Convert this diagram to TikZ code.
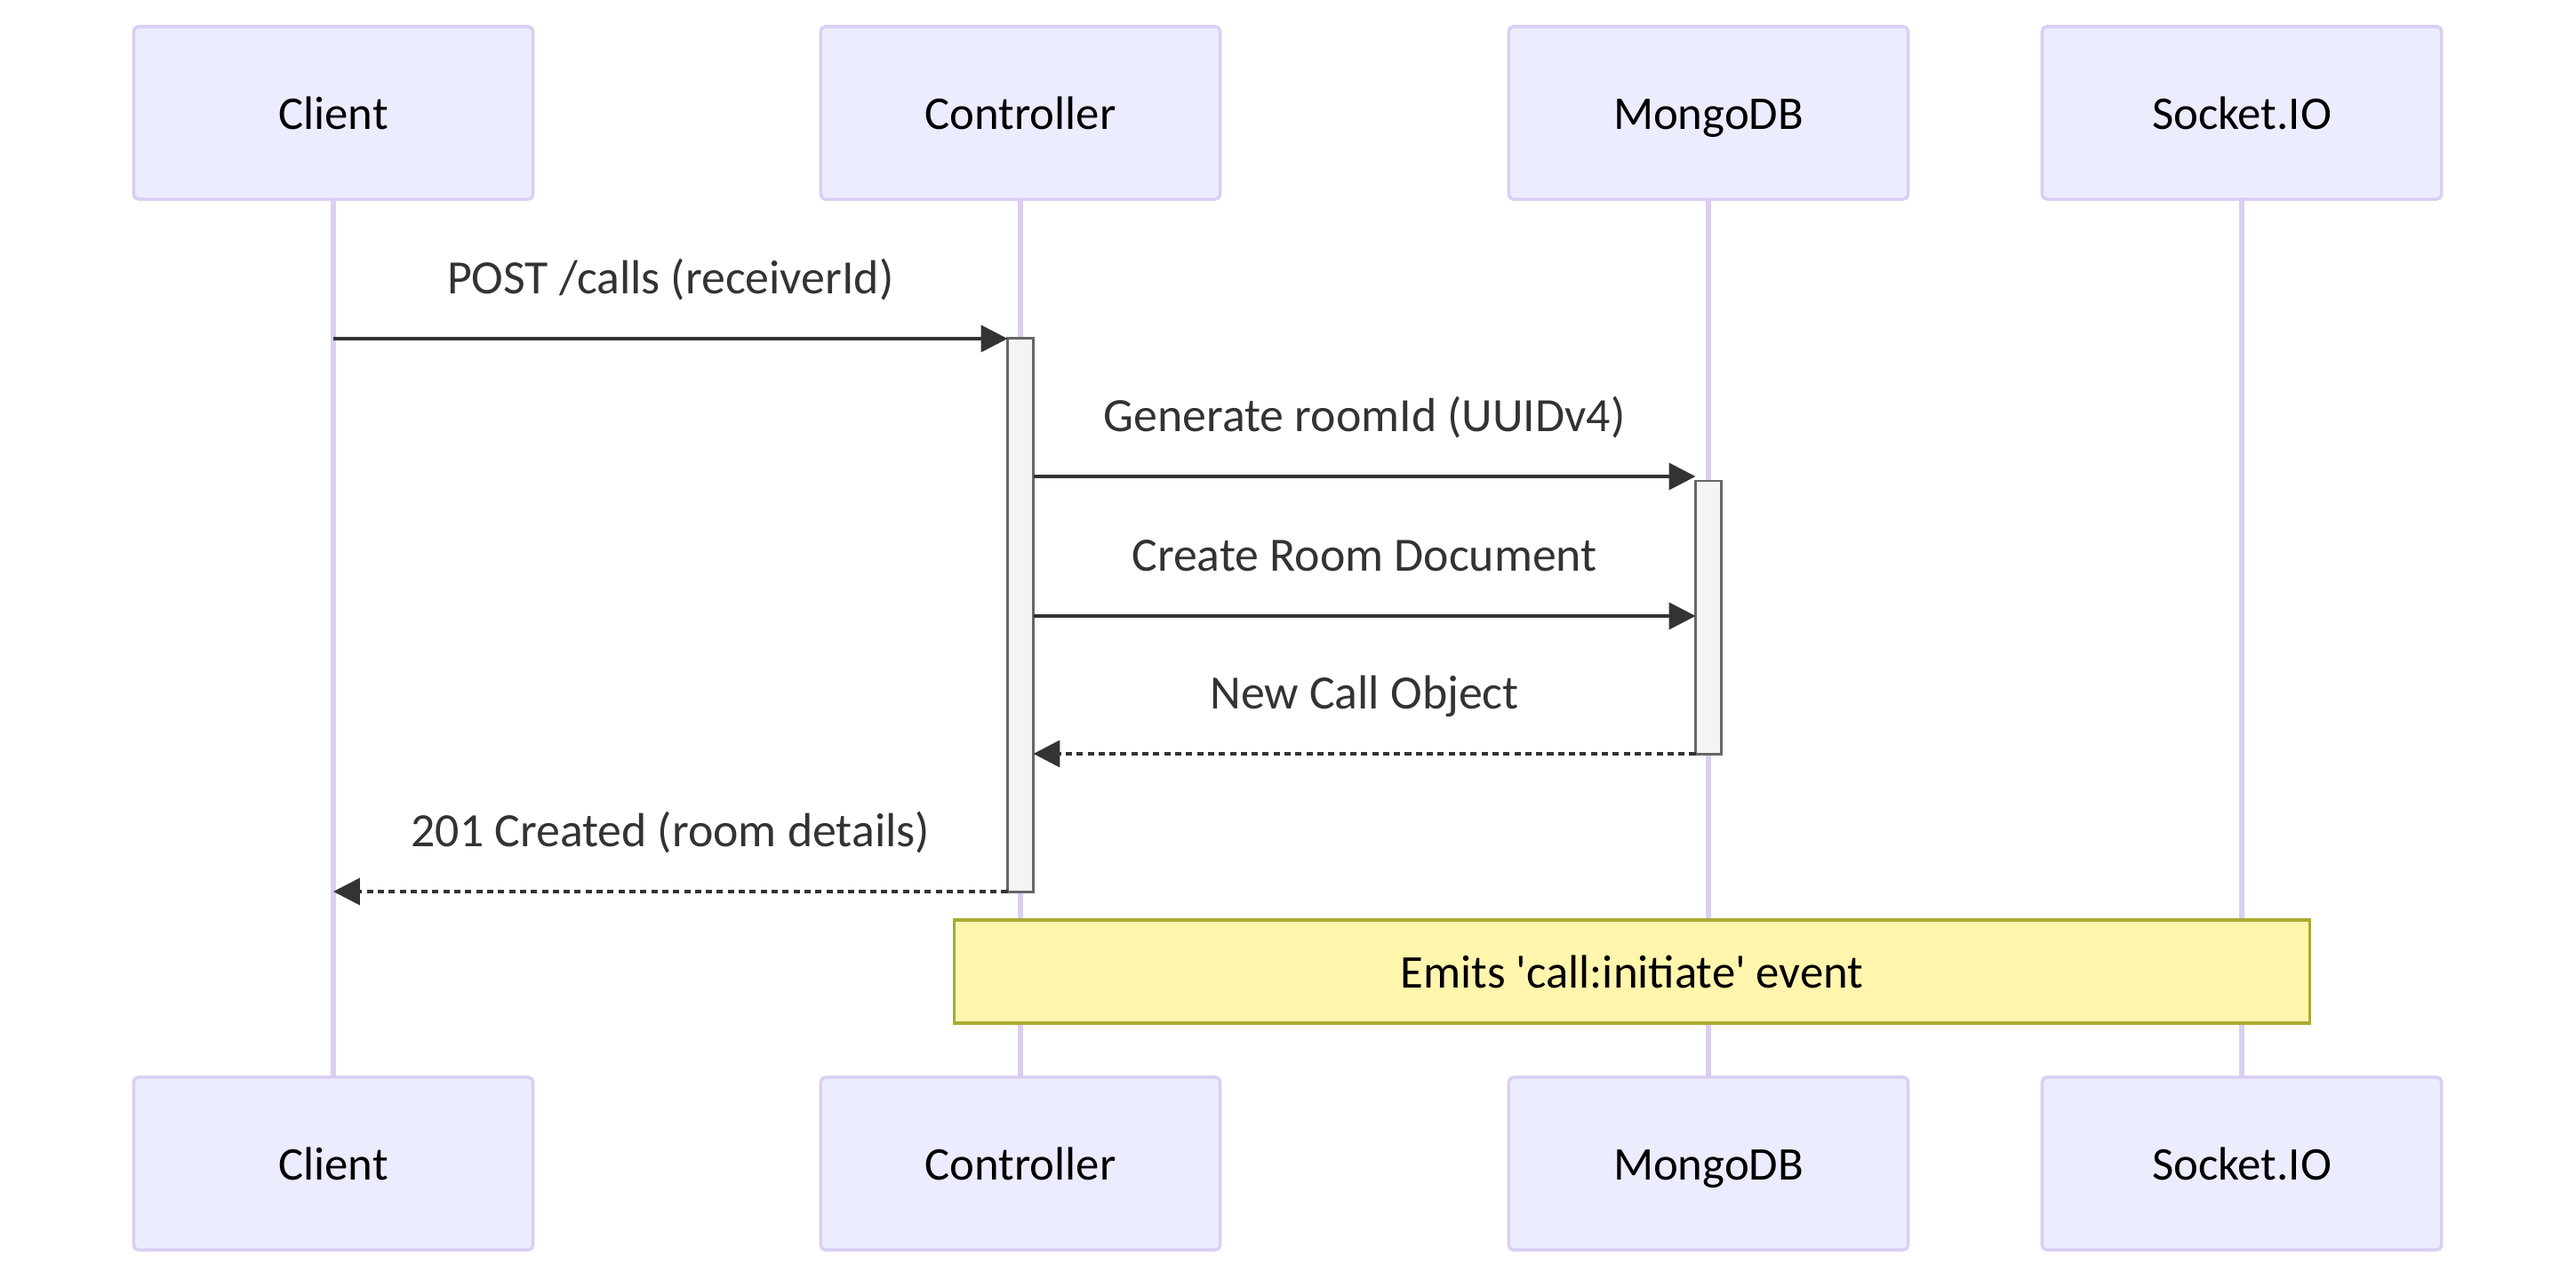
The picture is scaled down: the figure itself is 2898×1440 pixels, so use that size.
\documentclass[tikz,border=0pt]{standalone}
\usepackage{fontspec}
\setmainfont{Carlito}
\usetikzlibrary{arrows.meta}
\definecolor{actorfill}{HTML}{ECECFF}
\definecolor{actorline}{HTML}{DACEF3}
\definecolor{msgline}{HTML}{333333}
\definecolor{actfill}{HTML}{F4F4F4}
\definecolor{actline}{HTML}{666666}
\definecolor{notefill}{HTML}{FFF5AD}
\definecolor{noteline}{HTML}{AAAA33}
\tikzstyle{actor} = [draw=actorline, fill=actorfill, line width=1pt, rounded corners=1.5pt, minimum width=4.49cm, minimum height=1.94cm, inner sep=0, text height=10.5pt, text depth=0pt, text=black, font=\fontsize{15pt}{18pt}\selectfont]
\tikzstyle{lifeline} = [draw=actorline, line width=1.6pt]
\tikzstyle{actbar} = [draw=actline, fill=actfill, line width=0.8pt, minimum width=0.29cm, inner sep=0, outer sep=0]
\tikzstyle{msg} = [draw=msgline, line width=1.1pt, -{Triangle[length=8.5pt,width=8.5pt]}]
\tikzstyle{reply} = [msg, dash pattern=on 2pt off 1.5pt]
\tikzstyle{msglabel} = [anchor=base, yshift=0.5cm, text=msgline, font=\fontsize{15.3pt}{18pt}\selectfont]
\tikzstyle{note} = [draw=noteline, fill=notefill, line width=1pt, minimum width=15.24cm, minimum height=1.16cm, inner sep=0, text=black, font=\fontsize{15pt}{18pt}\selectfont]

\begin{document}
\begin{tikzpicture}[x=0.01cm, y=-0.01cm]
  \fill[white] (0,0) rectangle (2898,1440);
  \useasboundingbox (0,0) rectangle (2898,1440);

  % participants
  \node[actor] (clientTop) at (375,127) {Client};
  \node[actor] (ctrlTop) at (1148,127) {Controller};
  \node[actor] (mongoTop) at (1922,127) {MongoDB};
  \node[actor] (sockTop) at (2522,127) {Socket.IO};
  \node[actor] (clientBot) at (375,1309) {Client};
  \node[actor] (ctrlBot) at (1148,1309) {Controller};
  \node[actor] (mongoBot) at (1922,1309) {MongoDB};
  \node[actor] (sockBot) at (2522,1309) {Socket.IO};

  \draw[lifeline] (clientTop) -- (clientBot);
  \draw[lifeline] (ctrlTop) -- (ctrlBot);
  \draw[lifeline] (mongoTop) -- (mongoBot);
  \draw[lifeline] (sockTop) -- (sockBot);

  % activations
  \node[actbar, minimum height=6.22cm] (ctrlAct) at (1148,692) {};
  \node[actbar, minimum height=3.07cm] (mongoAct) at (1922,694.5) {};

  \coordinate (m1) at (0,381);
  \coordinate (m2) at (0,536);
  \coordinate (m3) at (0,693);
  \coordinate (m4) at (0,848);
  \coordinate (m5) at (0,1003);

  % messages
  \draw[msg] (clientTop |- m1) -- node[msglabel]{POST /calls (receiverId)} (ctrlAct.west |- m1);
  \draw[msg] (ctrlAct.east |- m2) -- node[msglabel]{Generate roomId (UUIDv4)} (mongoAct.west |- m2);
  \draw[msg] (ctrlAct.east |- m3) -- node[msglabel]{Create Room Document} (mongoAct.west |- m3);
  \draw[reply] (mongoAct.west |- m4) -- node[msglabel]{New Call Object} (ctrlAct.east |- m4);
  \draw[reply] (ctrlAct.west |- m5) -- node[msglabel]{201 Created (room details)} (clientTop |- m5);

  \node[note] (emitNote) at (1836,1093) {Emits \textquotesingle call:initiate\textquotesingle{} event};
\end{tikzpicture}
\end{document}
